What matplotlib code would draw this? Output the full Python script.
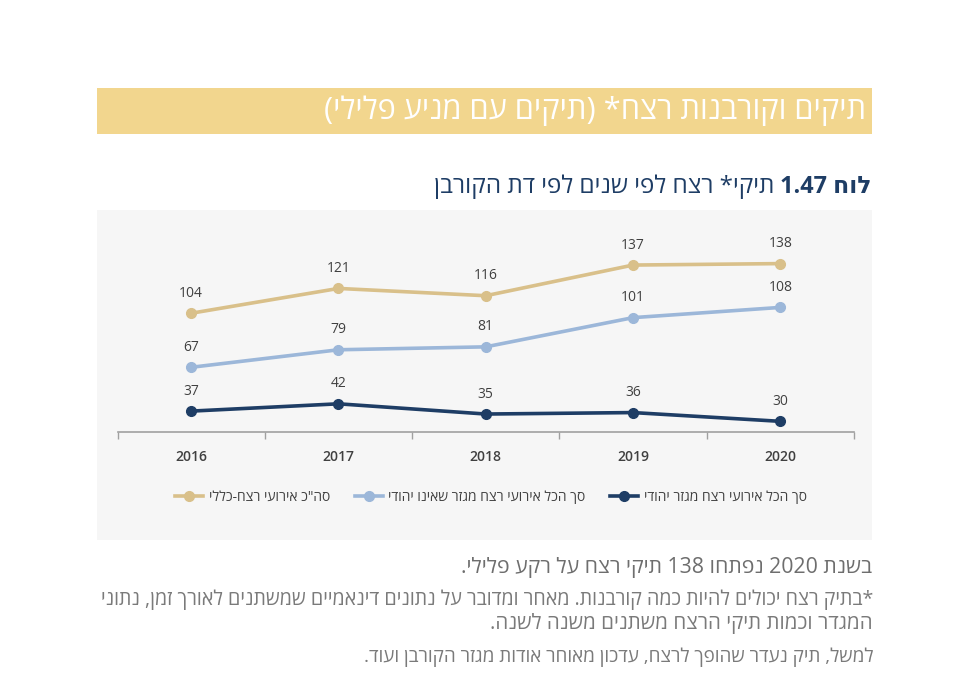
# -*- coding: utf-8 -*-

import re
import matplotlib
matplotlib.use('Agg')
import matplotlib.pyplot as plt
from matplotlib import font_manager, ft2font
from matplotlib.lines import Line2D
from matplotlib.patches import Rectangle

# נתונים
years = ['2016', '2017', '2018', '2019', '2020']
total_cases = [104, 121, 116, 137, 138]
non_jewish_cases = [67, 79, 81, 101, 108]
jewish_cases = [37, 42, 35, 36, 30]

series_labels = ['סה"כ אירועי רצח-כללי',
                 'סך הכל אירועי רצח מגזר שאינו יהודי',
                 'סך הכל אירועי רצח מגזר יהודי']
series_colors = ['#D9C08A', '#9CB7D9', '#1E3D65']

header_title = 'תיקים וקורבנות רצח* (תיקים עם מניע פלילי)'
table_number = 'לוח 1.47'
table_title = 'תיקי* רצח לפי שנים לפי דת הקורבן'
summary_text = 'בשנת 2020 נפתחו 138 תיקי רצח על רקע פלילי.'
footnote_lines = [
    '*בתיק רצח יכולים להיות כמה קורבנות. מאחר ומדובר על נתונים דינאמיים שמשתנים לאורך זמן, נתוני',
    'המגדר וכמות תיקי הרצח משתנים משנה לשנה.',
    'למשל, תיק נעדר שהופך לרצח, עדכון מאוחר אודות מגזר הקורבן ועוד.',
]


def rtl(s):
    """מחרוזת עברית לסדר תצוגה משמאל לימין (matplotlib לא מטפל ב-bidi)"""
    r = s[::-1].translate(str.maketrans('()', ')('))
    return re.sub(r'[0-9]+(?:[.,][0-9]+)*', lambda m: m.group(0)[::-1], r)


def has_hebrew(path):
    try:
        return 0x05D0 in ft2font.FT2Font(path).get_charmap()
    except Exception:
        return False


def pick_font(candidates):
    for name in candidates:
        for f in font_manager.fontManager.ttflist:
            if f.name == name and has_hebrew(f.fname):
                return name
    return 'DejaVu Sans'


W, H = 968, 700
main_font = pick_font(['Liberation Sans Narrow', 'Open Sans', 'Liberation Sans', 'DejaVu Sans'])
plt.rcParams['font.family'] = [main_font, 'DejaVu Sans']

fig = plt.figure(figsize=(W / 100, H / 100), dpi=100)
fig.patch.set_facecolor('white')


def px(x, y):
    return x / W, 1 - y / H


# פס כותרת צהוב ורקע אפור של הגרף
fig.patches.append(Rectangle(px(97, 134), 775 / W, 46 / H, transform=fig.transFigure,
                             facecolor='#F2D68E', edgecolor='none', zorder=-2))
fig.patches.append(Rectangle(px(97, 540), 775 / W, 330 / H, transform=fig.transFigure,
                             facecolor='#F6F6F6', edgecolor='none', zorder=-2))

renderer = fig.canvas.get_renderer()


def fit(txt, width_px):
    bb = txt.get_window_extent(renderer)
    txt.set_fontsize(txt.get_fontsize() * width_px / bb.width)
    return txt


t = fig.text(*px(866, 111), rtl(header_title), ha='right', va='center', color='white', fontsize=20)
fit(t, 543)

t_num = fig.text(*px(871, 187), rtl(table_number), ha='right', va='center',
                 color='#1E3D65', fontsize=15, fontweight='bold')
fit(t_num, 92)
bb = t_num.get_window_extent(renderer)
t_title = fig.text(bb.x0 / W - 5 / W, 1 - 187 / H, rtl(table_title), ha='right', va='center',
                   color='#1E3D65', fontsize=15)
fit(t_title, 340)

t = fig.text(*px(872, 568), rtl(summary_text), ha='right', va='center', color='#6E6E6E', fontsize=16)
fit(t, 412)

foot_y = [600, 624, 657]
foot_w = [776, 382, 511]
for line, y, w in zip(footnote_lines, foot_y, foot_w):
    t = fig.text(*px(873, y), rtl(line), ha='right', va='center', color='#7A7A7A', fontsize=11)
    fit(t, w)

# הגרף עצמו
ax = fig.add_axes([117.5 / W, 1 - 432 / H, 736.5 / W, 202 / H], zorder=2)
ax.patch.set_visible(False)
x = range(len(years))
for values, color in zip([total_cases, non_jewish_cases, jewish_cases], series_colors):
    ax.plot(x, values, color=color, linewidth=2.6, marker='o', markersize=7, zorder=3)
    for xi, v in zip(x, values):
        ax.annotate(str(v), (xi, v), xytext=(0, 9), textcoords='offset points',
                    ha='center', va='bottom', fontsize=10, color='#404040')

ax.set_xlim(-0.5, len(years) - 0.5)
ax.set_ylim(22.7, 161)
ax.set_yticks([])
ax.set_xticks(list(x))
ax.set_xticklabels(years, fontsize=10, color='#404040', fontweight='semibold')
ax.set_xticks([i - 0.5 for i in range(len(years) + 1)], minor=True)
ax.tick_params(axis='x', which='major', length=0, pad=13)
ax.tick_params(axis='x', which='minor', length=5, color='#A0A0A0', width=1)
for side in ['top', 'right', 'left']:
    ax.spines[side].set_visible(False)
ax.spines['bottom'].set_color('#A0A0A0')
ax.spines['bottom'].set_linewidth(1.2)

# מקרא
handles = [Line2D([], [], color=c, linewidth=2.6, marker='o', markersize=7) for c in series_colors]
fig.legend(handles, [rtl(s) for s in series_labels], loc='center',
           bbox_to_anchor=px(491, 497), ncol=3, frameon=False, fontsize=10,
           handlelength=2.0, handletextpad=0.4, columnspacing=1.8, labelcolor='#404040')

fig.savefig('out.png', dpi=100, facecolor='white')
